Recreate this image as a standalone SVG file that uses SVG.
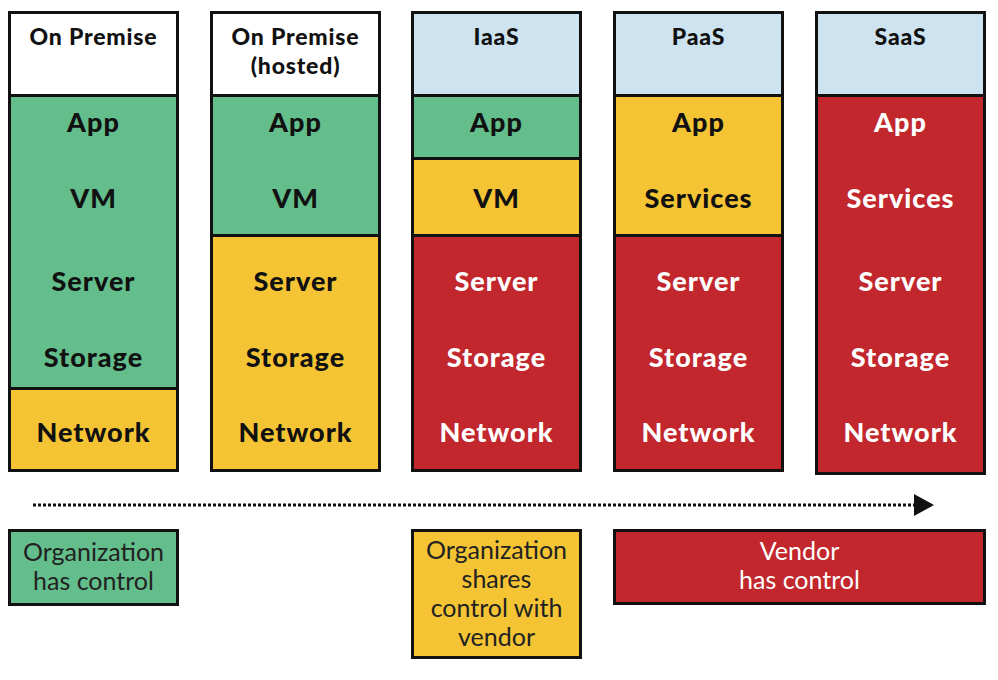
<svg xmlns="http://www.w3.org/2000/svg" width="998" height="680" viewBox="0 0 998 680">
<defs>
<style>
.box{stroke:#111;stroke-width:3}
.div{stroke:#111;stroke-width:3}
.w{fill:#fff}.g{fill:#63be8c}.y{fill:#f4c434}.r{fill:#c1272d}.b{fill:#cde3f0}
.h{font-family:Lato,"Open Sans",sans-serif;font-weight:900;font-size:23px;letter-spacing:0.8px;fill:#111;text-anchor:middle}
.l{font-family:Lato,"Open Sans",sans-serif;font-weight:900;font-size:27px;letter-spacing:1px;fill:#111;text-anchor:middle}
.lw{fill:#fff}
.n{font-family:Lato,"Open Sans",sans-serif;font-weight:400;font-size:25px;fill:#222;text-anchor:middle}
</style>
<marker id="ah" viewBox="0 0 20 22" refX="19" refY="11" markerWidth="20" markerHeight="22" markerUnits="userSpaceOnUse" orient="auto">
<path d="M0,0 L20,11 L0,22 z" fill="#111"/>
</marker>
</defs>
<rect width="998" height="680" fill="#fff"/>

<g id="col-onpremise">
<rect class="w" x="9.5" y="12.5" width="168" height="83"/>
<rect class="g" x="9.5" y="95.5" width="168" height="293"/>
<rect class="y" x="9.5" y="388.5" width="168" height="82"/>
<line class="div" x1="9.5" y1="95.5" x2="177.5" y2="95.5"/>
<line class="div" x1="9.5" y1="388.5" x2="177.5" y2="388.5"/>
<rect class="box" fill="none" x="9.5" y="12.5" width="168" height="458"/>
<text class="h" x="93.5" y="45">On Premise</text>
<text class="l" x="93.5" y="132">App</text>
<text class="l" x="93.5" y="208">VM</text>
<text class="l" x="93.5" y="291">Server</text>
<text class="l" x="93.5" y="367">Storage</text>
<text class="l" x="93.5" y="442">Network</text>
</g>

<g id="col-hosted">
<rect class="w" x="211.5" y="12.5" width="168" height="83"/>
<rect class="g" x="211.5" y="95.5" width="168" height="140"/>
<rect class="y" x="211.5" y="235.5" width="168" height="235"/>
<line class="div" x1="211.5" y1="95.5" x2="379.5" y2="95.5"/>
<line class="div" x1="211.5" y1="235.5" x2="379.5" y2="235.5"/>
<rect class="box" fill="none" x="211.5" y="12.5" width="168" height="458"/>
<text class="h" x="295.5" y="45">On Premise</text>
<text class="h" x="295.5" y="74">(hosted)</text>
<text class="l" x="295.5" y="132">App</text>
<text class="l" x="295.5" y="208">VM</text>
<text class="l" x="295.5" y="291">Server</text>
<text class="l" x="295.5" y="367">Storage</text>
<text class="l" x="295.5" y="442">Network</text>
</g>

<g id="col-iaas">
<rect class="b" x="412.5" y="12.5" width="168" height="83"/>
<rect class="g" x="412.5" y="95.5" width="168" height="63"/>
<rect class="y" x="412.5" y="158.5" width="168" height="77"/>
<rect class="r" x="412.5" y="235.5" width="168" height="235"/>
<line class="div" x1="412.5" y1="95.5" x2="580.5" y2="95.5"/>
<line class="div" x1="412.5" y1="158.5" x2="580.5" y2="158.5"/>
<line class="div" x1="412.5" y1="235.5" x2="580.5" y2="235.5"/>
<rect class="box" fill="none" x="412.5" y="12.5" width="168" height="458"/>
<text class="h" x="496.5" y="45">IaaS</text>
<text class="l" x="496.5" y="132">App</text>
<text class="l" x="496.5" y="208">VM</text>
<text class="l lw" x="496.5" y="291">Server</text>
<text class="l lw" x="496.5" y="367">Storage</text>
<text class="l lw" x="496.5" y="442">Network</text>
</g>

<g id="col-paas">
<rect class="b" x="614.5" y="12.5" width="168" height="83"/>
<rect class="y" x="614.5" y="95.5" width="168" height="140"/>
<rect class="r" x="614.5" y="235.5" width="168" height="235"/>
<line class="div" x1="614.5" y1="95.5" x2="782.5" y2="95.5"/>
<line class="div" x1="614.5" y1="235.5" x2="782.5" y2="235.5"/>
<rect class="box" fill="none" x="614.5" y="12.5" width="168" height="458"/>
<text class="h" x="698.5" y="45">PaaS</text>
<text class="l" x="698.5" y="132">App</text>
<text class="l" x="698.5" y="208">Services</text>
<text class="l lw" x="698.5" y="291">Server</text>
<text class="l lw" x="698.5" y="367">Storage</text>
<text class="l lw" x="698.5" y="442">Network</text>
</g>

<g id="col-saas">
<rect class="b" x="816.5" y="12.5" width="168" height="83"/>
<rect class="r" x="816.5" y="95.5" width="168" height="378"/>
<line class="div" x1="816.5" y1="95.5" x2="984.5" y2="95.5"/>
<rect class="box" fill="none" x="816.5" y="12.5" width="168" height="461"/>
<text class="h" x="900.5" y="45">SaaS</text>
<text class="l lw" x="900.5" y="132">App</text>
<text class="l lw" x="900.5" y="208">Services</text>
<text class="l lw" x="900.5" y="291">Server</text>
<text class="l lw" x="900.5" y="367">Storage</text>
<text class="l lw" x="900.5" y="442">Network</text>
</g>

<g id="connectors">
<line x1="33" y1="505" x2="933" y2="505" stroke="#111" stroke-width="3" stroke-dasharray="3,2" marker-end="url(#ah)"/>
</g>

<g id="legend-org">
<rect class="box g" x="9.5" y="530.5" width="168" height="74"/>
<text class="n" x="93.5" y="561">Organization</text>
<text class="n" x="93.5" y="590">has control</text>
</g>

<g id="legend-shared">
<rect class="box y" x="412.5" y="530.5" width="168" height="127"/>
<text class="n" x="496.5" y="559">Organization</text>
<text class="n" x="496.5" y="588">shares</text>
<text class="n" x="496.5" y="617">control with</text>
<text class="n" x="496.5" y="646">vendor</text>
</g>

<g id="legend-vendor">
<rect class="box r" x="614.5" y="530.5" width="370" height="73"/>
<text class="n" x="799.5" y="560" style="fill:#fff">Vendor</text>
<text class="n" x="799.5" y="589" style="fill:#fff">has control</text>
</g>
</svg>
